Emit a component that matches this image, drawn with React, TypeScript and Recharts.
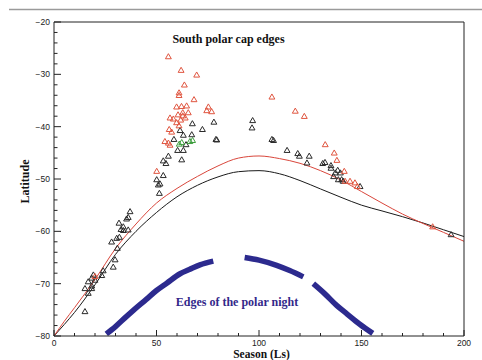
import React from 'react';
import { ComposedChart, Line, Scatter, XAxis, YAxis, ZAxis } from 'recharts';

// season (Ls) ticks, every 10 with labels every 50
const xTicks = [0, 10, 20, 30, 40, 50, 60, 70, 80, 90, 100, 110, 120, 130, 140, 150, 160, 170, 180, 190, 200];
// latitude ticks, every 2 with labels every 10
const yTicks = [-80, -78, -76, -74, -72, -70, -68, -66, -64, -62, -60, -58, -56, -54, -52, -50, -48, -46, -44, -42, -40, -38, -36, -34, -32, -30, -28, -26, -24, -22, -20];

// model cap edge curves
const curveLs = [0, 5, 10, 20, 30, 40, 50, 60, 70, 80, 90, 100, 110, 120, 130, 140, 150, 160, 170, 180, 190, 200];
const redModelLat = [-80, -77.2, -74.6, -69.2, -63.3, -58.6, -54.6, -51.8, -49.5, -47.5, -46.0, -45.6, -46.1, -47.0, -48.4, -50.2, -52.4, -54.6, -56.7, -58.5, -60.2, -61.9];
const blackModelLat = [-80, -77.8, -75.5, -70.2, -64.4, -60.0, -56.4, -53.4, -51.2, -49.6, -48.6, -48.4, -49.0, -50.3, -51.9, -53.5, -55.0, -56.1, -57.2, -58.4, -59.7, -61.0];

// observed cap edges [Ls, latitude]
const redEdges = [
  [55.8, -26.7], [62, -29.3], [69.6, -30.2], [63.6, -32.1], [61, -33.6], [61, -34.1], [68.3, -34.9],
  [59.8, -36.3], [62.2, -36.2], [64.7, -36.1], [75.3, -36.3], [74.5, -37], [76.9, -37.2], [62.8, -37.4],
  [65.5, -37.4], [56.6, -38.4], [58.2, -38.6], [62.8, -38], [64, -38.4], [60.5, -37.8], [61.8, -38.8],
  [59.8, -39.3], [61, -39.9], [56.2, -40.6], [57.4, -41.1], [54.1, -42.9], [55.8, -43.2], [56.6, -43.6],
  [50.1, -48.6], [20, -68.7], [106.3, -34.4], [117.7, -37.1], [122.1, -38.1], [132.3, -43.5],
  [136.7, -45.1], [138, -46.5], [141.6, -48.6], [142, -50.5], [144.4, -50.5], [146.8, -50.8],
  [148, -51.5], [184.7, -59.2],
];
const greenEdges = [[61.1, -43.4], [62.3, -43.1], [66.3, -42.9], [67.6, -42.7]];
const blackEdges = [
  [67.5, -39.5], [78, -39.2], [72.4, -40.6], [61.5, -40.8], [63.1, -41.7], [67.2, -41.6], [58.5, -42.5],
  [79, -42.5], [79.4, -42.6], [64.4, -43.5], [60.3, -44.6], [63.1, -44.6], [55.8, -45.7], [62.3, -46.4],
  [53.3, -46.6], [54.6, -47.1], [53.3, -49.4], [50.1, -50.2], [50.9, -51.2], [51.7, -51.0], [51.4, -52.8],
  [37.1, -56.3], [36.2, -57.4], [35.4, -57.7], [31.7, -58.5], [33.8, -59.2], [32.7, -59.7], [33.8, -59.9],
  [36.2, -59.8], [30.6, -61.4], [28.1, -62.1], [31.9, -61.2], [30.9, -63.3], [29.8, -65.5], [28.9, -66.9],
  [24, -67.6], [23.3, -68.5], [19.2, -68.4], [18.4, -69], [20, -69.4], [16.7, -69.7], [18.4, -70.5],
  [15.1, -71], [16.7, -71.9], [18.4, -71], [15.1, -75.4],
  [96.9, -38.9], [96.6, -40.3], [106.3, -42.5], [107.1, -42.7], [113.7, -44.6], [118.9, -45.2],
  [119.7, -45.7], [124.5, -45.7], [123.4, -47], [131.1, -47.1], [132.2, -46.9], [135.1, -47.5],
  [135.1, -48], [138.4, -48.4], [137.2, -48.9], [139.7, -48.9], [136.4, -49.6], [138.7, -50.2],
  [140.3, -50.2], [141.1, -50.5], [149.3, -51.5], [193.7, -60.7],
];

// edges of the polar night (three visible pieces)
const nightLs1 = [25.5, 30, 35, 38.7, 45, 50, 55, 61.5, 66, 71.2, 77.7];
const nightLat1 = [-79.6, -78.2, -76.4, -75.1, -73.0, -71.3, -69.9, -68.1, -67.3, -66.4, -65.7];
const nightLs2 = [93, 100, 108.6, 115, 121.6];
const nightLat2 = [-65.0, -65.5, -66.5, -67.5, -68.7];
const nightLs3 = [126.5, 132, 138, 143, 149, 155.5];
const nightLat3 = [-70.0, -71.9, -74.2, -75.8, -77.7, -79.5];

const zip = (ls: number[], lat: number[]) => ls.map((v, i) => ({ ls: v, lat: lat[i] }));
const pts = (arr: number[][]) => arr.map(([ls, lat]) => ({ ls, lat }));

const redCurve = zip(curveLs, redModelLat);
const blackCurve = zip(curveLs, blackModelLat);
const night1 = zip(nightLs1, nightLat1);
const night2 = zip(nightLs2, nightLat2);
const night3 = zip(nightLs3, nightLat3);

const AXIS = '#222';
const tickFont = '"Liberation Sans", Arial, sans-serif';
const serif = '"Liberation Serif", "Times New Roman", serif';
const fmt = (v: number) => (v < 0 ? '\u2212' + Math.abs(v) : String(v));

const BottomTick = (p: any) => {
  const major = p.payload.value % 50 === 0;
  return (
    <g>
      <line x1={p.x} x2={p.x} y1={p.y} y2={p.y - (major ? 6 : 3)} stroke={AXIS} />
      {major && (
        <text x={p.x} y={p.y + 10} textAnchor="middle" fontSize={8.5} fontFamily={tickFont} fill="#222">
          {p.payload.value}
        </text>
      )}
    </g>
  );
};

const TopTick = (p: any) => {
  const major = p.payload.value % 50 === 0;
  return <line x1={p.x} x2={p.x} y1={p.y} y2={p.y + (major ? 6 : 3)} stroke={AXIS} />;
};

const LeftTick = (p: any) => {
  const major = p.payload.value % 10 === 0;
  return (
    <g>
      <line x1={p.x} x2={p.x + (major ? 7 : 3.5)} y1={p.y} y2={p.y} stroke={AXIS} />
      {major && (
        <text x={p.x - 4} y={p.y + 3} textAnchor="end" fontSize={8.5} fontFamily={tickFont} fill="#222">
          {fmt(p.payload.value)}
        </text>
      )}
    </g>
  );
};

const RightTick = (p: any) => {
  const major = p.payload.value % 10 === 0;
  return <line x1={p.x} x2={p.x - (major ? 7 : 3.5)} y1={p.y} y2={p.y} stroke={AXIS} />;
};

export default function App() {
  return (
    <div style={{ position: 'absolute', left: 0, top: 0, width: 482, height: 360, background: '#fff', overflow: 'hidden' }}>
      <ComposedChart width={482} height={360} margin={{ top: 0, right: 0, bottom: 0, left: 0 }}>
        <XAxis xAxisId="b" type="number" dataKey="ls" domain={[0, 200]} ticks={xTicks} interval={0}
          height={24} tickSize={0} tickMargin={0} tickLine={false} axisLine={{ stroke: AXIS }}
          tick={(p: any) => <BottomTick {...p} />} />
        <XAxis xAxisId="t" orientation="top" type="number" dataKey="ls" domain={[0, 200]} ticks={xTicks} interval={0}
          height={22} tickSize={0} tickMargin={0} tickLine={false} axisLine={{ stroke: AXIS }}
          tick={(p: any) => <TopTick {...p} />} />
        <YAxis yAxisId="l" type="number" dataKey="lat" domain={[-80, -20]} ticks={yTicks} interval={0}
          width={54} tickSize={0} tickMargin={0} tickLine={false} axisLine={{ stroke: AXIS }}
          tick={(p: any) => <LeftTick {...p} />} />
        <YAxis yAxisId="r" orientation="right" type="number" dataKey="lat" domain={[-80, -20]} ticks={yTicks} interval={0}
          width={18} tickSize={0} tickMargin={0} tickLine={false} axisLine={{ stroke: AXIS }}
          tick={(p: any) => <RightTick {...p} />} />
        <ZAxis range={[15, 15]} />

        <Line xAxisId="b" yAxisId="l" data={night1} dataKey="lat" type="monotone" stroke="#2c2a8e" strokeWidth={5.5}
          dot={false} isAnimationActive={false} />
        <Line xAxisId="b" yAxisId="l" data={night2} dataKey="lat" type="monotone" stroke="#2c2a8e" strokeWidth={5.5}
          dot={false} isAnimationActive={false} />
        <Line xAxisId="b" yAxisId="l" data={night3} dataKey="lat" type="monotone" stroke="#2c2a8e" strokeWidth={5.5}
          dot={false} isAnimationActive={false} />

        <Line xAxisId="b" yAxisId="l" data={blackCurve} dataKey="lat" type="monotone" stroke="#1a1a1a" strokeWidth={1}
          dot={false} isAnimationActive={false} />
        <Line xAxisId="b" yAxisId="l" data={redCurve} dataKey="lat" type="monotone" stroke="#d9463b" strokeWidth={1}
          dot={false} isAnimationActive={false} />

        <Scatter xAxisId="b" yAxisId="l" data={pts(blackEdges)} dataKey="lat" shape="triangle" fill="none"
          stroke="#2a2a2a" strokeWidth={1} isAnimationActive={false} />
        <Scatter xAxisId="b" yAxisId="l" data={pts(redEdges)} dataKey="lat" shape="triangle" fill="none"
          stroke="#e0553f" strokeWidth={1} isAnimationActive={false} />
        <Scatter xAxisId="b" yAxisId="l" data={pts(greenEdges)} dataKey="lat" shape="triangle" fill="none"
          stroke="#3e9e3e" strokeWidth={1} isAnimationActive={false} />
      </ComposedChart>

      <svg width={482} height={360} style={{ position: 'absolute', left: 0, top: 0, pointerEvents: 'none' }}>
        <line x1={9} x2={482} y1={9.5} y2={9.5} stroke="#9a9a9a" strokeWidth={1.5} />
        <text x={228.5} y={43} textAnchor="middle" fontFamily={serif} fontWeight="bold" fontSize={12} fill="#111">
          South polar cap edges
        </text>
        <text x={237} y={306} textAnchor="middle" fontFamily={serif} fontWeight="bold" fontSize={12} fill="#33288a">
          Edges of the polar night
        </text>
        <text x={29} y={181.5} transform="rotate(-90 29 181.5)" textAnchor="middle" fontFamily={serif}
          fontWeight="bold" fontSize={12} fill="#111">
          Latitude
        </text>
        <text x={261.5} y={357.5} textAnchor="middle" fontFamily={serif} fontWeight="bold" fontSize={11.5} fill="#111">
          Season (Ls)
        </text>
      </svg>
    </div>
  );
}
